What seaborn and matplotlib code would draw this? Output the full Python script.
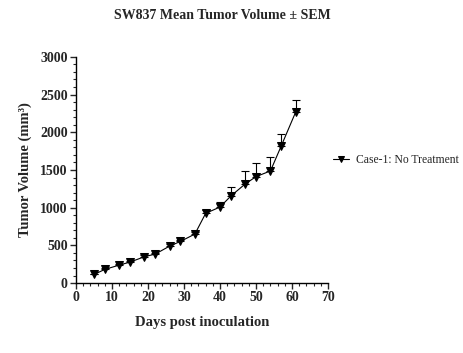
import matplotlib
matplotlib.use("Agg")
import matplotlib.pyplot as plt
from matplotlib.ticker import MultipleLocator
import numpy as np
import pandas as pd
import seaborn as sns

days = [5, 8, 12, 15, 19, 22, 26, 29, 33, 36, 40, 43, 47, 50, 54, 57, 61]
volume = [115, 182, 239, 279, 350, 385, 491, 553, 650, 925, 1009, 1155,
          1315, 1412, 1487, 1819, 2267]
sem = [10, 12, 15, 15, 18, 20, 22, 25, 28, 50, 70, 115, 175, 180, 180,
       155, 165]
group = "Case-1: No Treatment"

df = pd.DataFrame({"day": days, "volume": volume, "err": sem})

sns.set_style("ticks")
plt.rcParams["font.family"] = ["Liberation Serif", "DejaVu Serif"]

fig = plt.figure(figsize=(4.64, 3.53), dpi=100)
ax = fig.add_axes([0.164, 0.198, 0.543, 0.641])

# upper-only error bars, like the original graph
ax.errorbar(df["day"], df["volume"], yerr=[np.zeros(len(df)), df["err"]],
            fmt="none", ecolor="black", elinewidth=0.8, capsize=3,
            capthick=0.8)
sns.lineplot(data=df, x="day", y="volume", marker="v", color="black",
             markersize=6, linewidth=0.8, markeredgecolor="black",
             label=group, ax=ax)

ax.set_xlim(0, 70)
ax.set_ylim(0, 3000)
ax.xaxis.set_major_locator(MultipleLocator(10))
ax.xaxis.set_minor_locator(MultipleLocator(2))
ax.yaxis.set_major_locator(MultipleLocator(500))
ax.yaxis.set_minor_locator(MultipleLocator(100))
ax.tick_params(which="major", length=4, width=1, labelsize=10, pad=2)
ax.tick_params(which="minor", length=2, width=0.8)
for lab in ax.get_xticklabels() + ax.get_yticklabels():
    lab.set_fontweight("bold")

sns.despine(ax=ax)
for s in ["left", "bottom"]:
    ax.spines[s].set_linewidth(1)
    ax.spines[s].set_color("black")

ax.set_xlabel("Days post inoculation", fontsize=10.5, fontweight="bold",
              labelpad=8)
ax.set_ylabel("Tumor Volume (mm³)", fontsize=10.5, fontweight="bold",
              labelpad=6)
fig.suptitle("SW837 Mean Tumor Volume ± SEM", x=0.48, y=0.975,
             fontsize=10, fontweight="bold")

ax.legend(loc="center left", bbox_to_anchor=(1.01, 0.545), frameon=False,
          fontsize=8.4, handlelength=1.4, handletextpad=0.6, markerscale=0.8,
          borderaxespad=0, borderpad=0.2)

fig.savefig("out.png", dpi=100)
